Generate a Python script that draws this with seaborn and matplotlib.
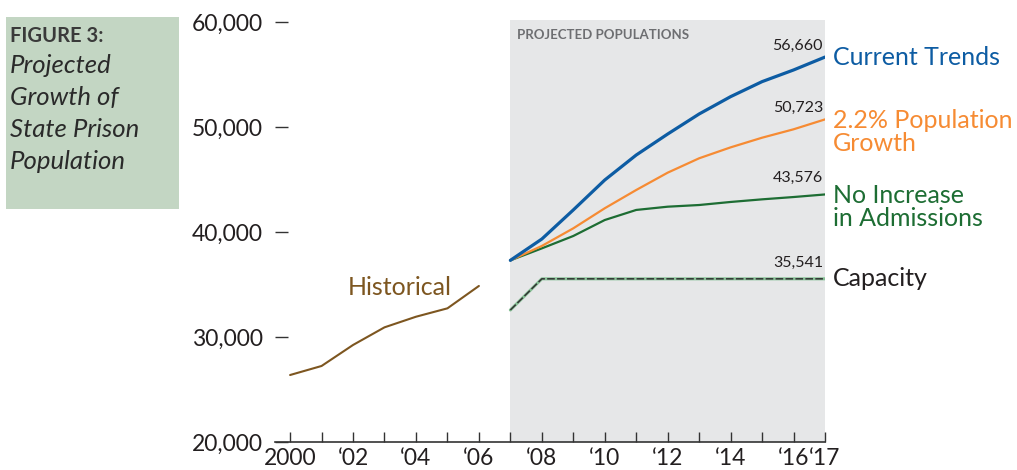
import numpy as np
import pandas as pd
import seaborn as sns
import matplotlib.pyplot as plt
from matplotlib.patches import Rectangle
from matplotlib.ticker import StrMethodFormatter

# data
hist_years = [2000, 2001, 2002, 2003, 2004, 2005, 2006]
historical = [26380, 27240, 29240, 30920, 31930, 32730, 34860]

proj_years = [2007, 2008, 2009, 2010, 2011, 2012, 2013, 2014, 2015, 2016, 2017]
current_trends = [37300, 39330, 42100, 44950, 47330, 49330, 51240, 52890, 54320, 55430, 56660]
pop_growth = [37300, 38670, 40350, 42260, 44000, 45650, 47020, 48060, 48980, 49780, 50723]
no_increase = [37300, 38440, 39620, 41140, 42100, 42410, 42570, 42860, 43110, 43330, 43576]
capacity = [32570, 35541, 35541, 35541, 35541, 35541, 35541, 35541, 35541, 35541, 35541]

tick_years = list(range(2000, 2018))
tick_labels = {2000: '2000', 2002: '‘02', 2004: '‘04', 2006: '‘06', 2008: '‘08',
               2010: '‘10', 2012: '‘12', 2014: '‘14', 2016: '‘16', 2017: '‘17'}

series_names = ['Current Trends', '2.2% Population\nGrowth', 'No Increase\nin Admissions', 'Capacity']
end_values = ['56,660', '50,723', '43,576', '35,541']

blue = '#0d5ca3'
orange = '#f68b33'
green = '#1d6d33'
brown = '#7d5620'
dark = '#231f20'

sns.set_theme(style='white')
plt.rcParams['font.family'] = ['Lato', 'DejaVu Sans']

fig = plt.figure(figsize=(10.17, 4.70), dpi=100)
ax = fig.add_axes([275 / 1017, 28 / 470, 550 / 1017, 422 / 470])

ax.axvspan(2007, 2017, color='#e6e7e8', lw=0, zorder=0)

sns.lineplot(x=hist_years, y=historical, color=brown, lw=1.5, ax=ax)
sns.lineplot(x=proj_years, y=capacity, color='#86c095', lw=2.2, ax=ax)
sns.lineplot(x=proj_years, y=capacity, color='#333333', lw=1.1, ax=ax, linestyle=(0, (5, 1.5)))
sns.lineplot(x=proj_years, y=no_increase, color=green, lw=1.6, ax=ax)
sns.lineplot(x=proj_years, y=pop_growth, color=orange, lw=1.6, ax=ax)
sns.lineplot(x=proj_years, y=current_trends, color=blue, lw=2.3, ax=ax)

ax.set_xlim(1999.52, 2017)
ax.set_ylim(20000, 60190)
ax.set_xticks(tick_years)
ax.set_xticklabels([tick_labels.get(y, '') for y in tick_years])
ax.set_yticks([20000, 30000, 40000, 50000, 60000])
ax.yaxis.set_major_formatter(StrMethodFormatter('{x:,.0f}'))

for s in ['top', 'right', 'left']:
    ax.spines[s].set_visible(False)
ax.spines['bottom'].set_color('#333333')
ax.spines['bottom'].set_linewidth(1.2)
ax.tick_params(axis='x', direction='in', length=7.5, width=1, color='#333333',
               labelsize=16.5, labelcolor=dark, pad=4, bottom=True)
ax.tick_params(axis='y', direction='in', length=9.5, width=1, color='#333333',
               labelsize=16.5, labelcolor=dark, pad=8.5, left=True)
ax.set_xlabel('')
ax.set_ylabel('')

ax.text(2007.22, 58760, 'PROJECTED POPULATIONS', color='#6d6e71', fontsize=9.5,
        fontweight='bold', va='center', ha='left')
ax.text(2003.5, 34670, 'Historical', color=brown, fontsize=18, ha='center', va='center')

ends = [current_trends[-1], pop_growth[-1], no_increase[-1], capacity[-1]]
colors = [blue, orange, green, dark]
value_off = [8, 8.6, 12, 11.5]
name_off = [0, -9, -9, 0]
for yv, name, val, c, vo, no in zip(ends, series_names, end_values, colors, value_off, name_off):
    ax.annotate(val, (2017, yv), xytext=(-1.5, vo), textcoords='offset points',
                ha='right', va='center', fontsize=11.5, color=dark)
    ax.annotate(name, (2017, yv), xytext=(5.5, no), textcoords='offset points',
                ha='left', va='center', fontsize=18, color=c, linespacing=1.0,
                annotation_clip=False)

# title box
fig.patches.append(Rectangle((6 / 1017, 1 - 209 / 470), 173 / 1017, 192 / 470,
                             transform=fig.transFigure, color='#c3d6c3', lw=0, zorder=0))
fig.text(10 / 1017, 1 - 42 / 470, 'FIGURE 3:', fontsize=14.5, fontweight='bold',
         color='#3a3a3a', va='baseline', ha='left')
title_lines = ['Projected', 'Growth of', 'State Prison', 'Population']
for i, line in enumerate(title_lines):
    fig.text(10 / 1017, 1 - (73 + 32 * i) / 470, line, fontsize=18.5, style='italic',
             color='#2a2a2a', va='baseline', ha='left')

fig.savefig('out.png', dpi=100)
